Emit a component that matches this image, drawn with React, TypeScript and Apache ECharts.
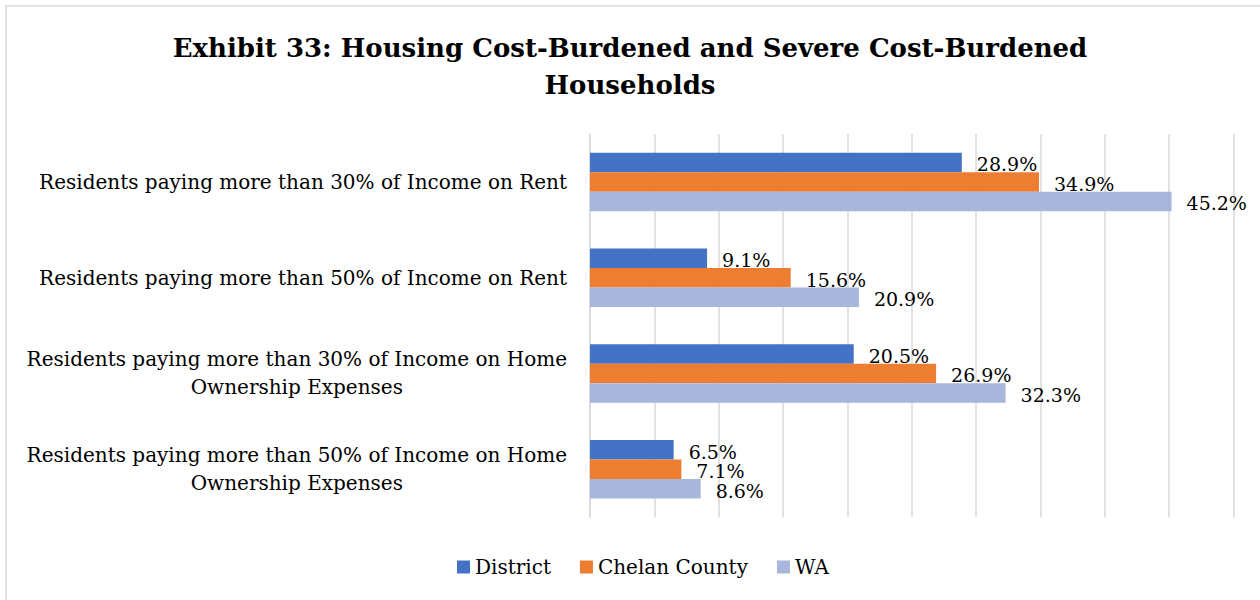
import React, { useEffect, useRef } from "react";
import * as echarts from "echarts";

const categories = [
  "Residents paying more than 30% of Income on Rent",
  "Residents paying more than 50% of Income on Rent",
  "Residents paying more than 30% of Income on Home\nOwnership Expenses",
  "Residents paying more than 50% of Income on Home\nOwnership Expenses",
];
const seriesNames = ["District", "Chelan County", "WA"];
const districtValues = [28.9, 9.1, 20.5, 6.5];
const chelanValues = [34.9, 15.6, 26.9, 7.1];
const waValues = [45.2, 20.9, 32.3, 8.6];
const colors = ["#4472C4", "#ED7D31", "#A9B6DC"];
const titleText = "Exhibit 33: Housing Cost-Burdened and Severe Cost-Burdened\nHouseholds";

const FONT = "DejaVu Serif";

export default function App() {
  const ref = useRef<HTMLDivElement>(null);
  useEffect(() => {
    document.body.style.margin = "0";
    const chart = echarts.init(ref.current!, null, { renderer: "svg" });
    const values = [districtValues, chelanValues, waValues];
    chart.setOption({
      animation: false,
      backgroundColor: "#ffffff",
      title: {
        text: titleText,
        left: "center",
        top: 24,
        textStyle: {
          fontFamily: FONT,
          fontWeight: "bold",
          fontSize: 26,
          lineHeight: 37,
          color: "#000000",
        },
      },
      graphic: [
        {
          type: "rect",
          shape: { x: 6, y: 6, width: 1400, height: 800 },
          style: { fill: "none", stroke: "#D9D9D9", lineWidth: 1.5 },
          silent: true,
        },
      ],
      legend: {
        bottom: 18,
        left: 452,
        icon: "rect",
        itemWidth: 13,
        itemHeight: 13,
        itemGap: 29,
        textStyle: { fontFamily: FONT, fontSize: 20, color: "#000" },
        data: seriesNames,
      },
      grid: { left: 590, right: 1260 - 1233.3, top: 134, bottom: 600 - 517, containLabel: false },
      xAxis: {
        type: "value",
        min: 0,
        max: 50,
        interval: 5,
        axisLabel: { show: false },
        axisLine: { show: false },
        axisTick: { show: false },
        splitLine: { lineStyle: { color: "#D9D9D9", width: 1.5 } },
      },
      yAxis: {
        type: "category",
        inverse: true,
        data: categories,
        axisTick: { show: false },
        axisLine: { show: true, lineStyle: { color: "#D9D9D9", width: 1.5 } },
        axisLabel: {
          margin: 23,
          color: "#000",
          fontFamily: FONT,
          fontSize: 20,
          lineHeight: 28,
          formatter: (v: string) =>
            v
              .split("\n")
              .map((l) => `{c|${l}}`)
              .join("\n"),
          rich: {
            c: { align: "center", fontFamily: FONT, fontSize: 20, lineHeight: 28, color: "#000" },
          },
        },
      },
      series: seriesNames.map((name, i) => ({
        name,
        type: "bar",
        data: values[i],
        barWidth: 19.5,
        barGap: "0%",
        itemStyle: { color: colors[i] },
        label: {
          show: true,
          position: "right",
          distance: 15,
          offset: [0, 2],
          formatter: (p: any) => `${Number(p.value).toFixed(1)}%`,
          fontFamily: FONT,
          fontSize: 19,
          color: "#000",
        },
      })),
    });
    return () => chart.dispose();
  }, []);
  return <div ref={ref} style={{ width: 1260, height: 600 }} />;
}
